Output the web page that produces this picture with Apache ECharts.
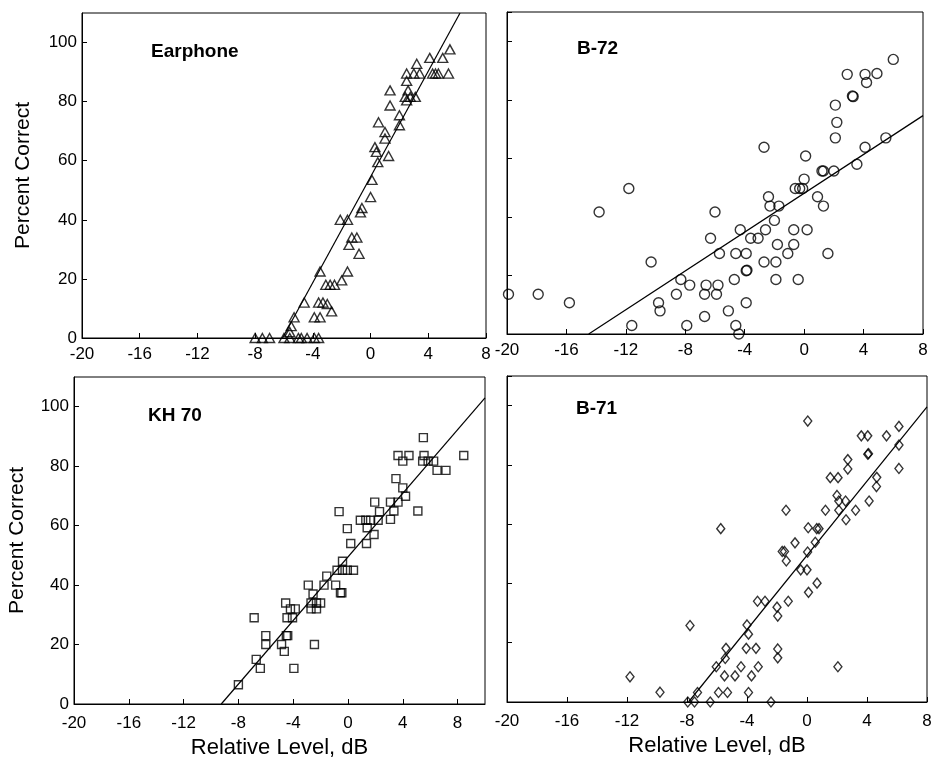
<!DOCTYPE html>
<html>
<head>
<meta charset="utf-8">
<script src="https://cdn.jsdelivr.net/npm/echarts@6/dist/echarts.min.js"></script>
<style>
html, body { margin: 0; padding: 0; background: #fff; }
#chart { width: 932px; height: 760px; }
</style>
</head>
<body>
<div id="chart"></div>
<script>
// panel names
var panelNames = ['Earphone', 'B-72', 'KH 70', 'B-71'];

// x ticks every 4 dB from -20, y ticks every 20 %
var xTicks = [-20, -16, -12, -8, -4, 0, 4, 8];
var yTicks = [0, 20, 40, 60, 80, 100];

// Earphone (triangles) [relative level dB, percent correct]
var earphoneData = [
    [-8.0,0],[-7.5,0],[-7.0,0],[-6.0,0],[-5.6,0],[-5.0,0],[-4.8,0],[-4.4,0],[-3.9,0],[-3.6,0],
    [-5.6,2],[-5.5,4],[-5.3,7],[-3.9,7],[-3.5,7],
    [-4.6,12],[-3.6,12],[-3.3,12],[-3.0,11.5],[-2.7,9],
    [-3.5,22.5],[-3.1,18],[-2.8,18],[-2.5,18],[-1.6,22.5],[-2.0,19.5],
    [-2.1,40],[-1.6,40],[-1.5,31.5],[-1.3,34],[-0.95,34],[-0.8,28.5],
    [-0.7,42.5],[-0.6,44],[0.1,53.5],[0.0,47.7],
    [0.5,59.5],[1.25,61.6],[0.3,64.6],[0.4,63],[0.55,73],[1.0,69.7],[1.0,67.5],
    [2.0,75.4],[2.0,72],[1.35,83.8],[1.35,78.7],
    [2.6,83.8],[2.4,81.6],[2.75,81.6],[3.1,81.6],[2.5,80.4],
    [2.5,87],[2.5,89.5],[3.0,89.5],[3.4,89.5],[3.2,92.8],
    [4.1,94.8],[5.0,94.8],[5.5,97.7],
    [4.3,89.5],[4.5,89.5],[4.7,89.5],[5.4,89.5]
];
var earphoneFit = [[-6.1, 0], [6.2, 110]];

// B-72 (circles)
var b72Data = [
    [-19.9,13.6],[-17.9,13.6],[-15.8,10.7],[-13.8,41.7],[-11.8,49.7],[-11.6,2.9],
    [-10.3,24.6],[-9.8,10.7],[-9.7,7.9],[-8.6,13.6],[-8.3,18.6],[-7.7,16.7],[-7.9,2.9],
    [-6.7,6.0],[-6.6,16.7],[-6.7,13.6],[-6.3,32.7],[-6.0,41.7],[-5.8,16.7],[-5.9,13.6],
    [-5.7,27.5],[-5.1,7.9],[-4.7,18.6],[-4.6,2.9],[-4.4,0],[-4.6,27.5],[-4.3,35.6],
    [-3.9,27.5],[-3.9,21.6],[-3.85,21.8],[-3.9,10.7],[-3.6,32.7],[-3.1,32.7],[-2.7,24.6],
    [-2.7,63.8],[-2.6,35.6],[-2.4,46.9],[-2.3,43.7],[-2.0,38.8],[-1.9,24.6],[-1.9,18.6],
    [-1.8,30.6],[-1.7,43.7],[-1.1,27.5],[-0.7,35.6],[-0.7,30.6],
    [-0.6,49.7],[-0.3,49.7],[-0.1,49.7],[-0.4,18.6],[0.1,60.8],[0.0,52.9],[0.2,35.6],
    [0.9,46.9],[1.3,43.7],[1.2,55.7],[1.3,55.7],[1.6,27.5],[2.0,55.7],[2.1,67.0],
    [2.1,78.2],[2.2,72.3],[2.9,88.7],[3.3,81.1],[3.25,81.3],[3.55,58.0],[4.1,63.8],
    [4.1,88.7],[4.2,85.9],[4.9,89.0],[5.5,67.0],[6.0,93.8]
];
var b72Fit = [[-14.5, 0], [8, 74.6]];

// KH 70 (squares)
var kh70Data = [
    [-8.0,6.5],[-6.85,29],[-6.7,15],[-6.4,12],[-6.0,23],[-6.0,20],[-4.85,20],[-4.65,17.7],
    [-4.5,23],[-4.4,23],[-4.55,34],[-4.2,32],[-3.85,32],[-4.45,29],[-4.05,29],[-3.95,12],
    [-2.9,40],[-2.45,20],[-2.7,34],[-2.3,34],[-2.0,34],[-2.7,32],[-2.3,32],[-2.55,37],
    [-1.75,40],[-1.55,43],[-0.9,40],[-0.55,37.4],[-0.45,37.4],[-0.4,48],
    [-0.8,45],[-0.4,45],[-0.05,45],[0.4,45],[-0.65,64.7],[-0.05,59],[0.2,54],
    [0.9,61.8],[1.3,61.8],[1.65,61.8],[1.35,54],[1.4,59.3],[1.9,57],[1.95,67.9],
    [2.3,64.7],[2.2,61.8],[3.1,67.9],[3.65,67.9],[3.35,64.9],[3.1,62.1],[3.5,75.8],
    [4.0,72.7],[4.2,69.9],[5.1,64.9],[3.65,83.6],[4.45,83.6],[4.0,81.7],[5.5,89.6],
    [5.55,83.6],[5.45,81.7],[5.85,81.7],[6.25,81.7],[6.5,78.6],[7.15,78.6],[8.45,83.6]
];
var kh70Fit = [[-9.25, 0], [10, 103]];

// B-71 (diamonds)
var b71Data = [
    [-11.8,8.5],[-9.8,3.3],[-7.8,25.8],[-7.95,0],[-7.5,0],[-7.3,3.2],[-6.45,0],[-6.05,11.9],
    [-5.9,3.2],[-5.3,3.2],[-5.75,58.5],[-5.45,14.7],[-5.4,18.1],[-5.5,8.8],[-4.8,8.8],
    [-4.4,11.9],[-4.0,26],[-3.9,22.9],[-4.05,18.1],[-3.4,18.1],[-3.9,3.2],[-3.7,8.8],
    [-3.25,11.9],[-3.3,34],[-2.8,34],[-2.4,0],[-2.0,32],[-1.95,29],[-1.95,17.9],[-1.95,14.9],
    [-1.4,64.7],[-1.65,50.8],[-1.5,50.8],[-1.38,47.6],[-1.25,34],[-0.8,53.7],[-0.42,44.6],
    [0.0,44.6],[0.05,94.8],[0.08,58.8],[0.04,50.6],[0.1,37],[0.55,53.9],[0.65,58.5],
    [0.8,58.5],[0.67,40.1],[1.23,64.7],[1.55,75.7],[2.07,75.7],[2.0,69.7],[2.12,67.8],
    [2.12,64.7],[2.06,11.9],[2.6,61.5],[2.57,67.8],[3.24,64.7],[2.72,81.8],[2.72,78.6],
    [3.62,89.8],[4.05,89.8],[4.05,83.6],[4.1,83.8],[4.14,67.8],[4.65,75.8],[4.63,72.7],
    [5.3,89.8],[6.13,93],[6.13,86.7],[6.13,78.8]
];
var b71Fit = [[-7.9, 0], [8, 99.6]];

var font = 'Liberation Sans, Arial, Helvetica, sans-serif';

function xAxisFor(idx, max, withName) {
    return {
        type: 'value', gridIndex: idx, min: xTicks[0], max: max, interval: 4,
        axisLine: {show: true, onZero: false, lineStyle: {color: '#000', width: 1}},
        axisTick: {show: true, inside: true, length: 5, lineStyle: {color: '#000', width: 1}},
        axisLabel: {color: '#000', fontSize: 17, fontFamily: font, margin: withName ? 11 : 8,
                    showMinLabel: true, showMaxLabel: max == 8},
        splitLine: {show: false},
        name: withName ? 'Relative Level, dB' : '',
        nameLocation: 'middle', nameGap: 33,
        nameTextStyle: {color: '#000', fontSize: 22, fontFamily: font}
    };
}

function yAxisFor(idx, withLabels, gap) {
    return {
        type: 'value', gridIndex: idx, min: yTicks[0], max: 110, interval: 20,
        axisLine: {show: true, onZero: false, lineStyle: {color: '#000', width: 1}},
        axisTick: {show: true, inside: true, length: 5, lineStyle: {color: '#000', width: 1}},
        axisLabel: {show: withLabels, color: '#000', fontSize: 17, fontFamily: font, margin: 5,
                    showMaxLabel: false},
        splitLine: {show: false},
        name: withLabels ? 'Percent Correct' : '',
        nameLocation: 'middle', nameGap: gap, nameRotate: 90,
        nameTextStyle: {color: '#000', fontSize: 21, fontFamily: font}
    };
}

function scatterFor(idx, data, symbol, size) {
    return {
        type: 'scatter', xAxisIndex: idx, yAxisIndex: idx, data: data,
        symbol: symbol, symbolSize: size,
        itemStyle: {color: 'rgba(0,0,0,0)', borderColor: '#000', borderWidth: 1.4},
        silent: true
    };
}

function fitFor(idx, data) {
    return {
        type: 'line', xAxisIndex: idx, yAxisIndex: idx, data: data,
        symbol: 'none', clip: true, silent: true,
        lineStyle: {color: '#000', width: 1.2}
    };
}

function titleAt(text, left, top) {
    return {
        text: text, left: left, top: top, padding: 0,
        textStyle: {color: '#000', fontSize: 19, fontWeight: 'bold', fontFamily: font}
    };
}

var myChart = echarts.init(document.getElementById('chart'), null, {renderer: 'canvas'});
var gridBase = {show: true, borderColor: '#000', borderWidth: 1, backgroundColor: 'transparent',
                containLabel: false, outerBoundsMode: 'none'};

var option = {
    animation: false,
    backgroundColor: '#fff',
    title: [
        titleAt(panelNames[0], 151, 42),
        titleAt(panelNames[1], 577, 39),
        titleAt(panelNames[2], 148, 406),
        titleAt(panelNames[3], 576, 399)
    ],
    grid: [
        Object.assign({left: 82, top: 13, width: 404, height: 325}, gridBase),
        Object.assign({left: 507, top: 12, width: 416, height: 322}, gridBase),
        Object.assign({left: 74, top: 377, width: 411, height: 327}, gridBase),
        Object.assign({left: 507, top: 376, width: 420, height: 326}, gridBase)
    ],
    xAxis: [
        xAxisFor(0, 8, false),
        xAxisFor(1, 8, false),
        xAxisFor(2, 10, true),
        xAxisFor(3, 8, true)
    ],
    yAxis: [
        yAxisFor(0, true, 48),
        yAxisFor(1, false, 48),
        yAxisFor(2, true, 46),
        yAxisFor(3, false, 48)
    ],
    series: [
        fitFor(0, earphoneFit),
        scatterFor(0, earphoneData, 'triangle', [10, 9]),
        fitFor(1, b72Fit),
        scatterFor(1, b72Data, 'circle', 10),
        fitFor(2, kh70Fit),
        scatterFor(2, kh70Data, 'rect', 8),
        fitFor(3, b71Fit),
        scatterFor(3, b71Data, 'diamond', [8, 10])
    ]
};
myChart.setOption(option);
</script>
</body>
</html>
